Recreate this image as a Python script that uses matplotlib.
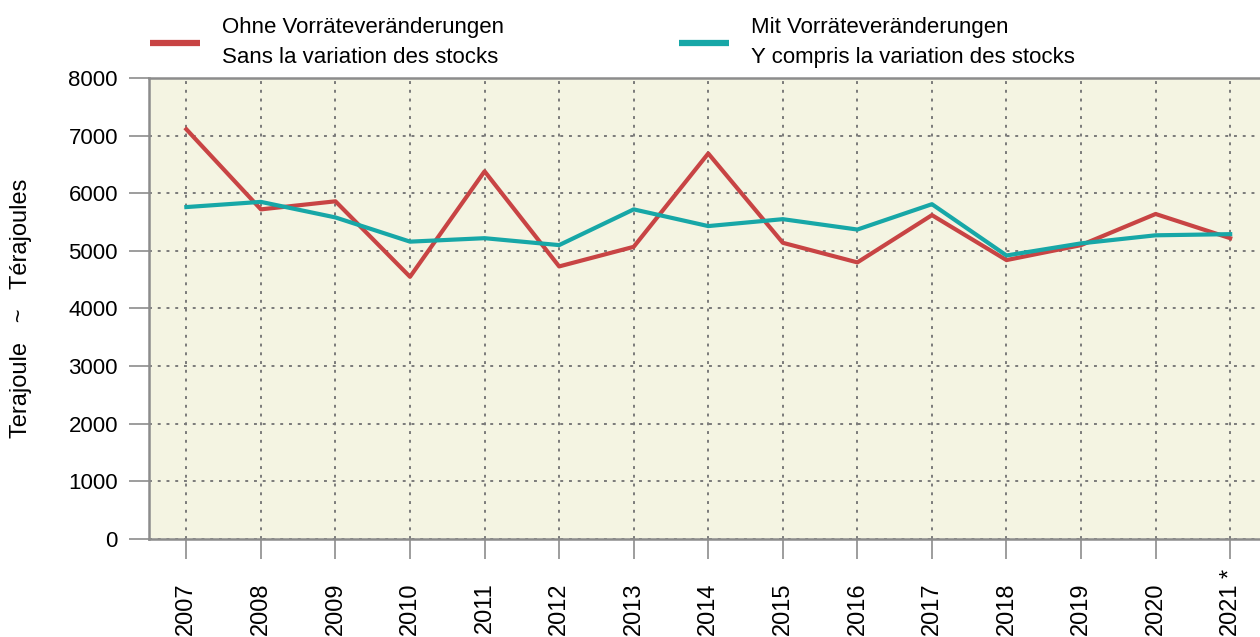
import matplotlib.pyplot as plt
from matplotlib.lines import Line2D

plt.rcParams['font.family'] = ['Liberation Sans', 'DejaVu Sans']

years = ['2007', '2008', '2009', '2010', '2011', '2012', '2013', '2014',
         '2015', '2016', '2017', '2018', '2019', '2020', '2021']
ohne = [7110, 5720, 5860, 4550, 6380, 4730, 5070, 6690,
        5140, 4800, 5620, 4840, 5100, 5640, 5220]
mit = [5760, 5850, 5580, 5160, 5220, 5100, 5720, 5430,
       5550, 5370, 5810, 4920, 5130, 5270, 5290]
provisional = '2021'   # marked with *

red = '#c84444'
teal = '#17a7a7'
grey = '#8c8c8c'

fig = plt.figure(figsize=(12.6, 6.37), dpi=100)
ax = fig.add_axes([0.1183, 0.1538, 0.8817, 0.7238])
ax.set_facecolor('#f4f4e2')

x = range(len(years))
ax.plot(x, ohne, color=red, lw=3)
ax.plot(x, mit, color=teal, lw=3)

ax.set_xlim(-0.5, 14.4)
ax.set_ylim(0, 8000)
ax.set_yticks(range(0, 8001, 1000))
ax.set_xticks(list(x))
ax.set_xticklabels(years, rotation=90, va='top', fontsize=17)

# asterisk above the provisional year label
ax.annotate('*', xy=(years.index(provisional), 0), xycoords=('data', 'axes fraction'),
            xytext=(0, -24.5), textcoords='offset points', rotation=90,
            ha='center', va='center', fontsize=17)

ax.grid(True, color='#7a7a7a', ls=(0, (1.5, 3)), lw=1.4)
ax.set_axisbelow(True)
for s in ['left', 'bottom', 'top']:
    ax.spines[s].set_color(grey)
    ax.spines[s].set_linewidth(1.8)
ax.spines['right'].set_visible(False)
ax.tick_params(axis='both', length=14.4, width=1.2, color=grey)
ax.tick_params(axis='y', pad=8, labelsize=16)
ax.tick_params(axis='x', pad=17)

fig.text(0.0165, 0.516, 'Terajoule   ~   Térajoules', rotation=90,
         ha='center', va='center', fontsize=17)

# two legend blocks, each with a two-line label
entries = [(red, 'Ohne Vorräteveränderungen\nSans la variation des stocks', 0.119),
           (teal, 'Mit Vorräteveränderungen\nY compris la variation des stocks', 0.539)]
for col, lab, xpos in entries:
    h = Line2D([], [], color=col, lw=4.5, solid_capstyle='butt')
    leg = fig.legend([h], [lab], loc='upper left', bbox_to_anchor=(xpos, 0.974),
                     frameon=False, fontsize=16, handlelength=2.25,
                     handletextpad=1.0, borderpad=0, borderaxespad=0)
    for t in leg.get_texts():
        t.set_linespacing(1.62)

fig.savefig('out.png', dpi=100)
